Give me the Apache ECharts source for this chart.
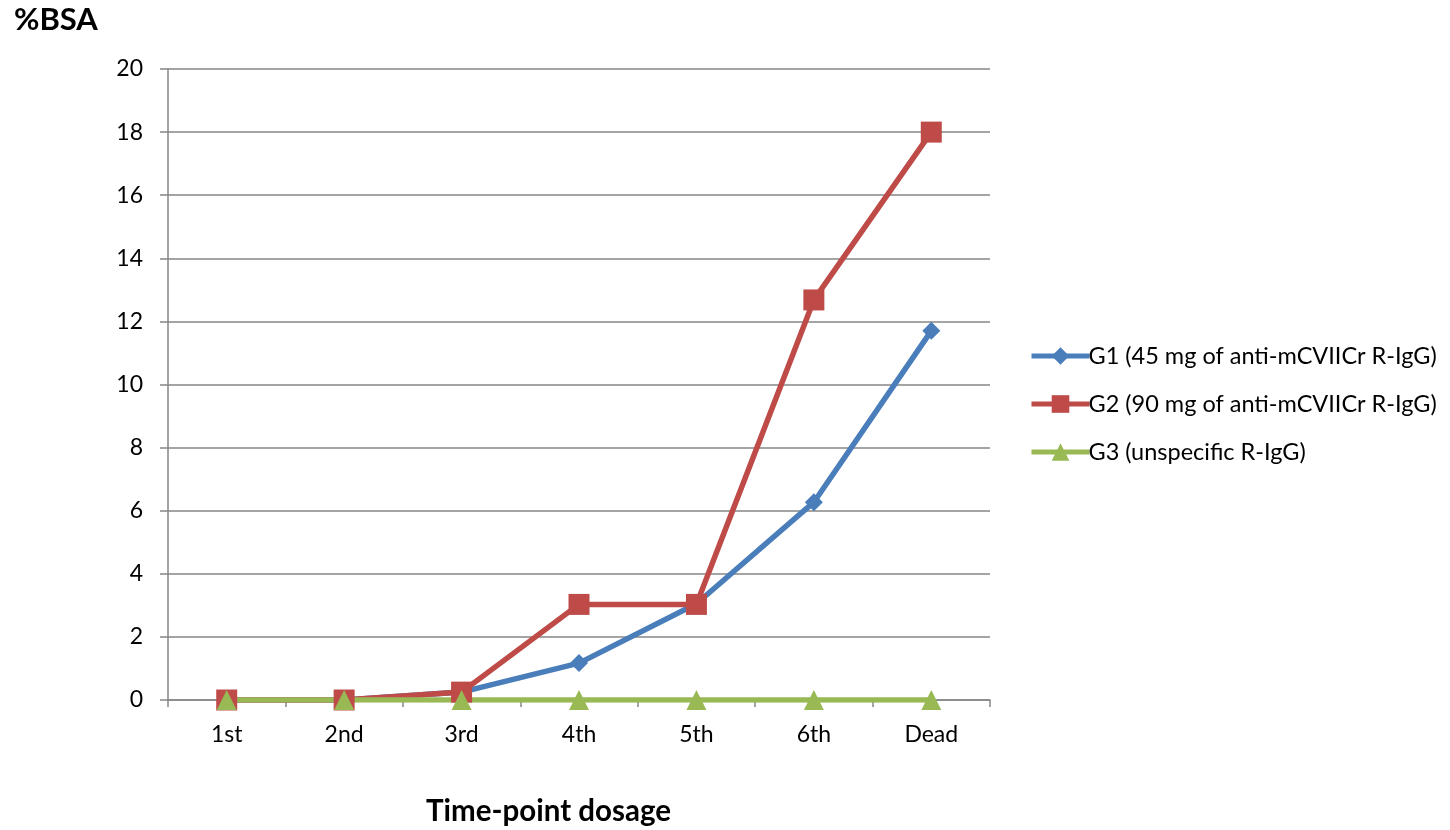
<!DOCTYPE html>
<html>
<head>
<meta charset="utf-8">
<script src="https://cdn.jsdelivr.net/npm/echarts@6/dist/echarts.min.js"></script>
<style>
  html, body { margin: 0; padding: 0; background: #fff; }
  #chart { width: 1450px; height: 830px; }
</style>
</head>
<body>
<div id="chart"></div>
<script>
// Time points at which %BSA was recorded
const categories = ['1st', '2nd', '3rd', '4th', '5th', '6th', 'Dead'];

// %BSA per group
const g1Values = [0, 0, 0.25, 1.17, 3.05, 6.27, 11.7];
const g2Values = [0, 0, 0.25, 3.03, 3.03, 12.68, 18.0];
const g3Values = [0, 0, 0, 0, 0, 0, 0];

const seriesNames = [
  'G1 (45 mg of anti-mCVIICr R-IgG)',
  'G2 (90 mg of anti-mCVIICr R-IgG)',
  'G3 (unspecific R-IgG)'
];

const yTicks = { min: 0, max: 20, interval: 2 };

const FONT = 'Lato, "Open Sans", "Liberation Sans", sans-serif';

const chart = echarts.init(document.getElementById('chart'), null, { renderer: 'canvas' });

function lineSeries(name, data, color, symbol, size) {
  return {
    name: name,
    type: 'line',
    data: data,
    symbol: symbol,
    symbolSize: size,
    showAllSymbol: true,
    lineStyle: { color: color, width: 5.5 },
    itemStyle: { color: color },
    emphasis: { disabled: true },
    animation: false
  };
}

chart.setOption({
  backgroundColor: '#ffffff',
  textStyle: { fontFamily: FONT },
  grid: { left: 168, right: 460, top: 69, bottom: 130, containLabel: false },
  legend: {
    orient: 'vertical',
    left: 1024,
    top: 339,
    itemWidth: 58,
    itemHeight: 22,
    itemGap: 24,
    lineStyle: { width: 5 },
    textStyle: { fontFamily: FONT, fontSize: 23.5, color: '#000', padding: [0, 0, 0, -6] },
    data: seriesNames
  },
  xAxis: {
    type: 'category',
    data: categories,
    boundaryGap: true,
    axisLine: { lineStyle: { color: '#868686', width: 1.5 } },
    axisTick: { show: true, inside: false, length: 7, interval: 0, lineStyle: { color: '#868686', width: 1.5 } },
    axisLabel: { color: '#000', fontSize: 23, margin: 23, fontFamily: FONT },
    splitLine: { show: false }
  },
  yAxis: {
    type: 'value',
    min: yTicks.min,
    max: yTicks.max,
    interval: yTicks.interval,
    axisLine: { show: true, lineStyle: { color: '#868686', width: 1.5 } },
    axisTick: { show: true, length: 8, lineStyle: { color: '#868686', width: 1.5 } },
    axisLabel: { color: '#000', fontSize: 23, margin: 25, fontFamily: FONT },
    splitLine: { show: true, lineStyle: { color: '#868686', width: 1.5 } }
  },
  graphic: [
    {
      type: 'text',
      left: 14,
      top: 4,
      style: { text: '%BSA', font: 'bold 31px ' + FONT, fill: '#000' }
    },
    {
      type: 'text',
      left: 426,
      top: 796,
      style: { text: 'Time-point dosage', font: 'bold 29.5px ' + FONT, fill: '#000' }
    }
  ],
  series: [
    lineSeries(seriesNames[0], g1Values, '#4A7EBB', 'diamond', 18),
    lineSeries(seriesNames[1], g2Values, '#BE4B48', 'rect', 21),
    lineSeries(seriesNames[2], g3Values, '#98B954', 'triangle', 20)
  ]
});
</script>
</body>
</html>
